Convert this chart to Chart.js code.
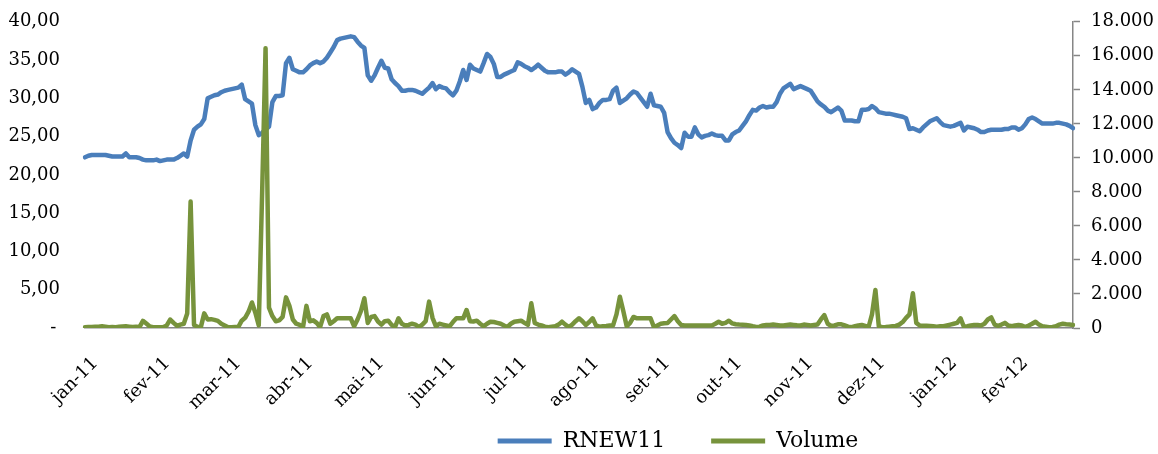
<!DOCTYPE html>
<html>
<head>
<meta charset="utf-8">
<script src="https://cdn.jsdelivr.net/npm/chart.js@4.4.1/dist/chart.umd.min.js"></script>
<style>
  html, body { margin: 0; padding: 0; background: #fff; }
  #wrap { position: relative; width: 1158px; height: 454px; overflow: hidden; }
  .month {
    position: absolute; width: 100px; text-align: right;
    font: 18px/1 "DejaVu Serif"; color: #000; white-space: nowrap;
    transform-origin: 100% 0; transform: rotate(-45deg);
  }
</style>
</head>
<body>
<div id="wrap"><canvas id="myChart" width="1158" height="454"></canvas></div>
<script>
// month labels, one every 21 sessions
const months = ['jan-11', 'fev-11', 'mar-11', 'abr-11', 'mai-11', 'jun-11', 'jul-11',
    'ago-11', 'set-11', 'out-11', 'nov-11', 'dez-11', 'jan-12', 'fev-12'];
const sessionsPerMonth = 21;

const priceTicks = ['-', '5,00', '10,00', '15,00', '20,00', '25,00', '30,00', '35,00', '40,00'];
const volumeTicks = ['0', '2.000', '4.000', '6.000', '8.000', '10.000', '12.000', '14.000', '16.000', '18.000'];

// RNEW11 closing price
const rnew11 = [
    22.3, 22.5, 22.6, 22.6, 22.6, 22.6, 22.6, 22.5, 22.4, 22.4,
    22.4, 22.4, 22.8, 22.3, 22.3, 22.3, 22.2, 22.0, 21.9, 21.9,
    21.9, 22.0, 21.8, 21.9, 22.0, 22.0, 22.0, 22.2, 22.5, 22.8,
    22.4, 24.5, 25.9, 26.3, 26.6, 27.3, 30.0, 30.2, 30.4, 30.5,
    30.8, 31.0, 31.1, 31.2, 31.3, 31.4, 31.8, 29.9, 29.6, 29.3,
    26.5, 25.2, 25.5, 25.9, 26.3, 29.5, 30.3, 30.3, 30.4, 34.6,
    35.3, 33.8, 33.6, 33.4, 33.4, 33.8, 34.3, 34.6, 34.8, 34.6,
    34.8, 35.3, 36.0, 36.7, 37.6, 37.8, 37.9, 38.0, 38.1, 38.0,
    37.4, 36.9, 36.6, 33.0, 32.3, 33.0, 34.0, 34.9, 34.0, 33.9,
    32.5, 32.0, 31.6, 31.0, 31.0, 31.1, 31.1, 31.0, 30.8, 30.6,
    31.0, 31.4, 32.0, 31.2, 31.6, 31.4, 31.3, 30.8, 30.4, 31.0,
    32.2, 33.7, 32.4, 34.4, 33.9, 33.7, 33.5, 34.6, 35.8, 35.4,
    34.5, 32.8, 32.8, 33.1, 33.3, 33.5, 33.7, 34.7, 34.5, 34.2,
    34.0, 33.7, 34.0, 34.4, 34.0, 33.6, 33.4, 33.4, 33.4, 33.5,
    33.5, 33.1, 33.4, 33.8, 33.5, 33.2, 31.5, 29.4, 29.8, 28.6,
    28.8, 29.4, 29.8, 29.8, 29.9, 31.0, 31.4, 29.4, 29.7, 30.0,
    30.5, 30.9, 30.7, 30.1, 29.5, 28.9, 30.6, 29.1, 29.0, 28.9,
    28.1, 25.6, 24.8, 24.2, 23.9, 23.5, 25.5, 25.0, 25.0, 26.2,
    25.3, 24.9, 25.1, 25.2, 25.4, 25.2, 25.1, 25.1, 24.5, 24.5,
    25.3, 25.6, 25.8, 26.4, 27.0, 27.8, 28.5, 28.4, 28.8, 29.0,
    28.8, 28.9, 28.9, 29.5, 30.6, 31.3, 31.6, 31.9, 31.2, 31.4,
    31.6, 31.4, 31.2, 31.0, 30.3, 29.6, 29.2, 28.9, 28.4, 28.2,
    28.5, 28.8, 28.4, 27.1, 27.1, 27.1, 27.0, 27.0, 28.5, 28.5,
    28.6, 29.0, 28.7, 28.2, 28.1, 28.0, 28.0, 27.9, 27.8, 27.7,
    27.6, 27.4, 26.0, 26.1, 25.9, 25.7, 26.2, 26.6, 27.0, 27.2,
    27.4, 26.9, 26.5, 26.4, 26.3, 26.4, 26.6, 26.8, 25.8, 26.3,
    26.2, 26.1, 25.9, 25.6, 25.6, 25.8, 25.9, 25.9, 25.9, 25.9,
    26.0, 26.0, 26.2, 26.2, 25.9, 26.1, 26.6, 27.3, 27.5, 27.3,
    27.0, 26.7, 26.7, 26.7, 26.7, 26.8, 26.8, 26.7, 26.6, 26.4, 26.1
];

// traded volume
const volume = [
    40, 60, 60, 80, 70, 100, 80, 50, 60, 50,
    70, 90, 100, 80, 60, 70, 60, 420, 260, 90,
    50, 40, 50, 60, 150, 500, 300, 130, 200, 250,
    850, 7430, 180, 80, 50, 860, 500, 520, 480, 420,
    250, 150, 40, 50, 60, 60, 430, 600, 960, 1500,
    900, 150, 8000, 16450, 1200, 700, 400, 450, 650, 1800,
    1300, 500, 250, 180, 60, 1300, 400, 450, 300, 50,
    700, 800, 250, 400, 570, 570, 570, 570, 570, 100,
    500, 1000, 1750, 300, 650, 700, 380, 200, 400, 430,
    180, 60, 570, 250, 150, 180, 250, 200, 60, 200,
    400, 1550, 600, 100, 250, 200, 150, 100, 350, 570,
    570, 570, 1060, 400, 380, 430, 250, 100, 250, 370,
    350, 300, 250, 150, 60, 250, 370, 400, 430, 300,
    180, 1450, 300, 200, 150, 80, 50, 80, 100, 200,
    370, 200, 60, 200, 400, 570, 400, 180, 350, 570,
    150, 80, 100, 120, 150, 150, 800, 1840, 1000, 100,
    300, 650, 570, 570, 570, 570, 570, 50, 150, 250,
    280, 290, 500, 700, 400, 180, 150, 140, 150, 150,
    140, 150, 150, 140, 150, 250, 370, 250, 300, 430,
    270, 220, 200, 190, 180, 150, 100, 60, 80, 150,
    180, 180, 200, 180, 150, 150, 180, 200, 180, 160,
    150, 200, 180, 150, 180, 200, 500, 760, 250, 120,
    150, 220, 220, 150, 80, 50, 100, 150, 180, 120,
    60, 800, 2230, 100, 50, 60, 80, 100, 120, 200,
    350, 600, 800, 2040, 300, 150, 130, 130, 120, 100,
    80, 100, 100, 150, 200, 250, 300, 570, 60, 100,
    150, 180, 180, 150, 250, 500, 620, 200, 130, 200,
    300, 150, 100, 150, 180, 150, 60, 150, 250, 370,
    200, 100, 80, 50, 60, 100, 200, 250, 220, 200, 180
];

const labels = rnew11.map((v, i) => i % sessionsPerMonth === 0 ? months[i / sessionsPerMonth] : '');

const serif = 'DejaVu Serif';
const axisGray = '#868686';

// move the legend where excel had it (grow its box upwards so nothing is clipped)
const legendShift = {
    id: 'legendShift',
    afterLayout(chart) {
        const lg = chart.legend;
        lg.left += 99; lg.right += 99;
        lg.top -= 40;
    }
};

// month names at 45 degrees, placed from the x scale
const monthLabels = {
    id: 'monthLabels',
    afterRender(chart) {
        const wrap = document.getElementById('wrap');
        wrap.querySelectorAll('.month').forEach(el => el.remove());
        const xs = chart.scales.x;
        months.forEach((m, k) => {
            const px = xs.getPixelForValue(k * sessionsPerMonth);
            const el = document.createElement('div');
            el.className = 'month';
            el.textContent = m;
            el.style.left = (px + 3 - 100) + 'px';
            el.style.top = (xs.top + 25) + 'px';
            wrap.appendChild(el);
        });
    }
};

let ctx = document.getElementById('myChart').getContext('2d');
let myChart = new Chart(ctx, {
    type: 'line',
    data: {
        labels: labels,
        datasets: [
            {
                label: 'RNEW11',
                data: rnew11,
                yAxisID: 'y',
                borderColor: '#4A7EBB',
                backgroundColor: '#4A7EBB',
                borderWidth: 4.5,
                order: 1
            },
            {
                label: 'Volume',
                data: volume,
                yAxisID: 'y1',
                borderColor: '#77933C',
                backgroundColor: '#77933C',
                borderWidth: 4.5,
                order: 0
            }
        ]
    },
    options: {
        responsive: false,
        animation: false,
        layout: {padding: {left: 0, right: 0, top: 0, bottom: 0}},
        elements: {
            point: {radius: 0},
            line: {tension: 0, borderJoinStyle: 'round', borderCapStyle: 'round'}
        },
        plugins: {
            tooltip: {enabled: false},
            legend: {
                position: 'bottom',
                maxHeight: 30,
                labels: {
                    font: {family: serif, size: 22},
                    color: '#000',
                    boxWidth: 54,
                    boxHeight: 5,
                    padding: 46,
                    sort: (a, b) => a.datasetIndex - b.datasetIndex,
                    generateLabels(chart) {
                        const items = Chart.defaults.plugins.legend.labels.generateLabels(chart);
                        items.forEach(it => { it.lineWidth = 0; it.fillStyle = it.strokeStyle; });
                        return items;
                    }
                }
            }
        },
        scales: {
            x: {
                type: 'category',
                grid: {display: false},
                border: {display: true, color: axisGray, width: 1.5},
                ticks: {display: false, autoSkip: false},
                afterFit(scale) { scale.height = 96; }
            },
            y: {
                position: 'left',
                min: 0,
                max: 40,
                grid: {display: true, drawOnChartArea: false, drawTicks: true, tickLength: 14, tickColor: 'rgba(0,0,0,0)'},
                border: {display: false},
                ticks: {
                    stepSize: 5,
                    padding: 11,
                    color: '#000',
                    font: {family: serif, size: 18},
                    callback: (value, index) => index === 0 ? priceTicks[0] + '\u2009' : priceTicks[index]
                },
                afterFit(scale) { scale.width = 85; }
            },
            y1: {
                position: 'right',
                min: 0,
                max: 18000,
                grid: {display: true, drawOnChartArea: false, drawTicks: true, tickLength: 7, tickColor: axisGray, tickWidth: 1.5},
                border: {display: true, color: axisGray, width: 1.5},
                ticks: {
                    stepSize: 2000,
                    padding: 11,
                    color: '#000',
                    font: {family: serif, size: 18},
                    callback: (value, index) => volumeTicks[index]
                },
                afterFit(scale) { scale.width = 85; }
            }
        }
    },
    plugins: [legendShift, monthLabels]
});
</script>
</body>
</html>
